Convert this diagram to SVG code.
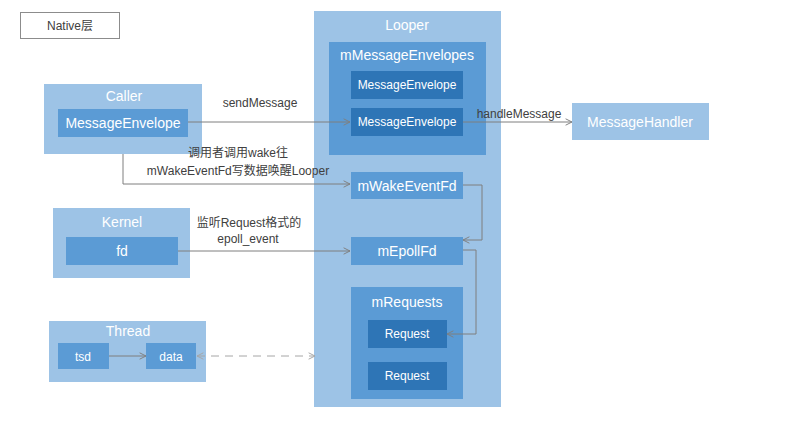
<svg xmlns="http://www.w3.org/2000/svg" width="808" height="421" viewBox="0 0 808 421">
<defs>
<style>
text{font-family:"Liberation Sans","Noto Sans CJK SC",sans-serif;text-anchor:middle}
.l1{fill:#9DC3E6}
.l2{fill:#5B9BD5}
.l3{fill:#2E75B6}
.w{fill:#fff}
.t14{font-size:14px}
.t12{font-size:12px}
.lab{fill:#404040;font-size:12px}
.c{fill:none;stroke:#7F7F7F;stroke-width:1}
.d{fill:none;stroke:#A6A6A6;stroke-width:1;stroke-dasharray:8 6}
</style>
<marker id="ah" viewBox="0 0 10 10" refX="9" refY="5" markerWidth="8" markerHeight="8" orient="auto-start-reverse" markerUnits="userSpaceOnUse">
<path d="M1,1 L9,5 L1,9" fill="none" stroke="#7F7F7F" stroke-width="1.2"/>
</marker>
<marker id="ahd" viewBox="0 0 10 10" refX="9" refY="5" markerWidth="8" markerHeight="8" orient="auto-start-reverse" markerUnits="userSpaceOnUse">
<path d="M1,1 L9,5 L1,9" fill="none" stroke="#A6A6A6" stroke-width="1.2"/>
</marker>
</defs>
<rect width="808" height="421" fill="#fff"/>

<g id="native">
<rect x="20.5" y="12.5" width="99" height="26" fill="#fff" stroke="#8C8C8C"/>
<text x="70" y="30" class="t12" fill="#404040">Native层</text>
</g>

<g id="looper">
<rect x="314" y="11" width="187" height="396" class="l1"/>
<text x="407" y="30" class="t14 w">Looper</text>
</g>
<g id="mMessageEnvelopes">
<rect x="329" y="42" width="157" height="113" class="l2"/>
<text x="407" y="60" class="t14 w">mMessageEnvelopes</text>
</g>
<g id="envelope1">
<rect x="351" y="71" width="112" height="28" class="l3"/>
<text x="407" y="89" class="t12 w">MessageEnvelope</text>
</g>
<g id="envelope2">
<rect x="351" y="108" width="112" height="28" class="l3"/>
<text x="407" y="126" class="t12 w">MessageEnvelope</text>
</g>
<g id="mWakeEventFd">
<rect x="351" y="172" width="112" height="27" class="l2"/>
<text x="407" y="191" class="t14 w">mWakeEventFd</text>
</g>
<g id="mEpollFd">
<rect x="351" y="237" width="112" height="28" class="l2"/>
<text x="407" y="256" class="t14 w">mEpollFd</text>
</g>
<g id="mRequests">
<rect x="351" y="287" width="112" height="112" class="l2"/>
<text x="407" y="307" class="t14 w">mRequests</text>
</g>
<g id="request1">
<rect x="368" y="320" width="79" height="28" class="l3"/>
<text x="407" y="338" class="t12 w">Request</text>
</g>
<g id="request2">
<rect x="368" y="362" width="79" height="28" class="l3"/>
<text x="407" y="380" class="t12 w">Request</text>
</g>

<g id="messageHandler">
<rect x="572" y="103" width="137" height="37" class="l1"/>
<text x="640" y="127" class="t14 w">MessageHandler</text>
</g>

<g id="caller">
<rect x="44" y="84" width="158" height="70" class="l1"/>
<text x="124" y="101" class="t14 w">Caller</text>
<rect x="58" y="109" width="130" height="28" class="l2"/>
<text x="123" y="128" class="t14 w">MessageEnvelope</text>
</g>

<g id="kernel">
<rect x="53" y="208" width="137" height="70" class="l1"/>
<text x="122" y="227" class="t14 w">Kernel</text>
<rect x="66" y="237" width="112" height="28" class="l2"/>
<text x="122" y="256" class="t14 w">fd</text>
</g>

<g id="thread">
<rect x="49" y="321" width="157" height="61" class="l1"/>
<text x="128" y="336" class="t14 w">Thread</text>
<rect x="58" y="343" width="51" height="26" class="l2"/>
<text x="83" y="361" class="t12 w">tsd</text>
<rect x="146" y="343" width="50" height="26" class="l2"/>
<text x="171" y="361" class="t12 w">data</text>
</g>

<g id="connectors">
<path d="M188,122 H350" class="c" marker-end="url(#ah)"/>
<path d="M463,122 H572" class="c" marker-end="url(#ah)"/>
<path d="M123,154 V184 H350" class="c" marker-end="url(#ah)"/>
<path d="M463,185 H482 V240 H463" class="c" marker-end="url(#ah)"/>
<path d="M178,251 H350" class="c" marker-end="url(#ah)"/>
<path d="M463,250 H476 V334 H447" class="c" marker-end="url(#ah)"/>
<path d="M109,356 H146" class="c" marker-end="url(#ah)"/>
<path d="M197,356 H315" class="d" marker-start="url(#ahd)" marker-end="url(#ahd)"/>
<text x="260" y="107" class="lab">sendMessage</text>
<text x="519" y="118" class="lab">handleMessage</text>
<text x="238" y="157" class="lab">调用者调用wake往</text>
<text x="238" y="175" class="lab">mWakeEventFd写数据唤醒Looper</text>
<text x="249" y="227" class="lab">监听Request格式的</text>
<text x="248" y="243" class="lab">epoll_event</text>
</g>
</svg>
